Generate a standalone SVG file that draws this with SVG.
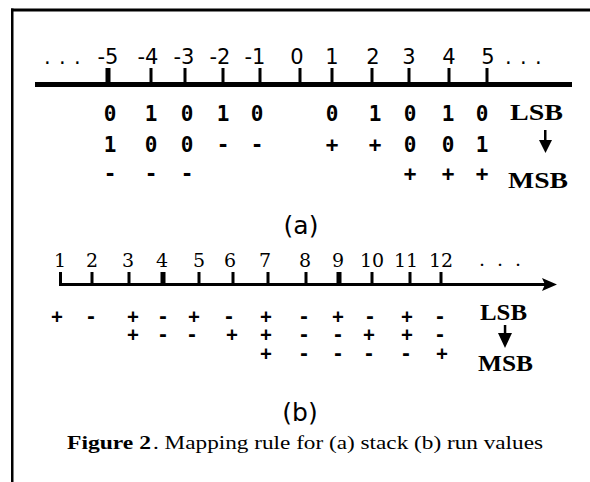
<svg xmlns="http://www.w3.org/2000/svg" width="590" height="482" viewBox="0 0 590 482">
  <style>
    .axislabel { font-family: "DejaVu Sans", "Liberation Sans", sans-serif; font-size: 21px; fill: #000; text-anchor: middle; }
    .runlabel { font-family: "DejaVu Serif", "Liberation Serif", serif; font-size: 19px; fill: #000; text-anchor: middle; }
    .bit { font-family: "DejaVu Sans Mono", "Liberation Mono", monospace; font-weight: bold; font-size: 21px; fill: #000; text-anchor: middle; }
    .bitb { font-family: "DejaVu Sans Mono", "Liberation Mono", monospace; font-weight: bold; font-size: 19px; fill: #000; text-anchor: middle; }
    .sb { font-family: "Liberation Serif", serif; font-weight: bold; font-size: 24px; fill: #000; }
    .part { font-family: "DejaVu Sans", "Liberation Sans", sans-serif; font-size: 25px; fill: #000; text-anchor: middle; }
    .caption { font-family: "Liberation Serif", serif; font-size: 19px; fill: #000; }
    .tick { fill: #000; }
  </style>

  <!-- frame -->
  <g id="frame" fill="#000">
    <rect x="11" y="8.5" width="579" height="3"/>
    <rect x="11" y="8.5" width="2.5" height="474"/>
  </g>

  <!-- (a) stack values -->
  <g id="axis-a">
    <rect x="35" y="82" width="537" height="5" fill="#000"/>
    <rect class="tick" x="105.5" y="68" width="5" height="16"/>
    <rect class="tick" x="149.5" y="68" width="3" height="16"/>
    <rect class="tick" x="183.5" y="68" width="3" height="16"/>
    <rect class="tick" x="221.5" y="68" width="3" height="16"/>
    <rect class="tick" x="258.5" y="68" width="3" height="16"/>
    <rect class="tick" x="298.5" y="68" width="3" height="16"/>
    <rect class="tick" x="330.5" y="68" width="3" height="16"/>
    <rect class="tick" x="370.5" y="68" width="3" height="16"/>
    <rect class="tick" x="407.5" y="68" width="3" height="16"/>
    <rect class="tick" x="447.5" y="68" width="3" height="16"/>
    <rect class="tick" x="485.5" y="68" width="3" height="16"/>
  </g>
  <g id="labels-a">
    <text class="axislabel" x="44 59 74" y="64" style="text-anchor:start">...</text>
    <text class="axislabel" x="108" y="64">-5</text>
    <text class="axislabel" x="148" y="64">-4</text>
    <text class="axislabel" x="184" y="64">-3</text>
    <text class="axislabel" x="220" y="64">-2</text>
    <text class="axislabel" x="255" y="64">-1</text>
    <text class="axislabel" x="297" y="64">0</text>
    <text class="axislabel" x="332" y="64">1</text>
    <text class="axislabel" x="373" y="64">2</text>
    <text class="axislabel" x="409" y="64">3</text>
    <text class="axislabel" x="449" y="64">4</text>
    <text class="axislabel" x="488" y="64">5</text>
    <text class="axislabel" x="505 520 535" y="64" style="text-anchor:start">...</text>
  </g>
  <g id="bits-a">
    <text class="bit" y="120.5"><tspan x="110">0</tspan><tspan x="151">1</tspan><tspan x="187">0</tspan><tspan x="223">1</tspan><tspan x="257">0</tspan><tspan x="332">0</tspan><tspan x="375">1</tspan><tspan x="410">0</tspan><tspan x="448">1</tspan><tspan x="482">0</tspan></text>
    <text class="bit" y="151.5"><tspan x="110">1</tspan><tspan x="151">0</tspan><tspan x="187">0</tspan><tspan x="223">-</tspan><tspan x="257">-</tspan><tspan x="332">+</tspan><tspan x="375">+</tspan><tspan x="410">0</tspan><tspan x="448">0</tspan><tspan x="482">1</tspan></text>
    <text class="bit" y="181"><tspan x="110">-</tspan><tspan x="151">-</tspan><tspan x="187">-</tspan><tspan x="410">+</tspan><tspan x="448">+</tspan><tspan x="482">+</tspan></text>
  </g>
  <g id="order-a">
    <text class="sb" x="510" y="120" textLength="53" lengthAdjust="spacingAndGlyphs">LSB</text>
    <rect x="544" y="130" width="2.5" height="11" fill="#000"/>
    <polygon points="539,140 552,140 545.5,153" fill="#000"/>
    <text class="sb" x="508" y="188" textLength="60" lengthAdjust="spacingAndGlyphs">MSB</text>
  </g>
  <text id="part-a" class="part" x="301" y="234">(a)</text>

  <!-- (b) run values -->
  <g id="axis-b">
    <rect x="59" y="283" width="486" height="3" fill="#000"/>
    <polygon points="542,278 557,284.5 542,291 545,284.5" fill="#000"/>
    <rect class="tick" x="59" y="272" width="3" height="12"/>
    <rect class="tick" x="90.5" y="272" width="3" height="12"/>
    <rect class="tick" x="127.5" y="272" width="3" height="12"/>
    <rect class="tick" x="160.5" y="272" width="5" height="12"/>
    <rect class="tick" x="197.5" y="272" width="3" height="12"/>
    <rect class="tick" x="231.5" y="272" width="3" height="12"/>
    <rect class="tick" x="266.5" y="272" width="3" height="12"/>
    <rect class="tick" x="304.5" y="272" width="3" height="12"/>
    <rect class="tick" x="336.5" y="272" width="5" height="12"/>
    <rect class="tick" x="370.5" y="272" width="3" height="12"/>
    <rect class="tick" x="408.5" y="272" width="3" height="12"/>
    <rect class="tick" x="439.5" y="272" width="3" height="12"/>
  </g>
  <g id="labels-b">
    <text class="runlabel" x="60" y="267">1</text>
    <text class="runlabel" x="92" y="267">2</text>
    <text class="runlabel" x="128" y="267">3</text>
    <text class="runlabel" x="162" y="267">4</text>
    <text class="runlabel" x="199" y="267">5</text>
    <text class="runlabel" x="230" y="267">6</text>
    <text class="runlabel" x="265" y="267">7</text>
    <text class="runlabel" x="305" y="267">8</text>
    <text class="runlabel" x="338" y="267">9</text>
    <text class="runlabel" x="372" y="267">10</text>
    <text class="runlabel" x="406" y="267">11</text>
    <text class="runlabel" x="441" y="267">12</text>
    <text class="runlabel" x="482 500 518" y="266">...</text>
  </g>
  <g id="bits-b">
    <text class="bitb" y="322.5"><tspan x="57">+</tspan><tspan x="91">-</tspan><tspan x="133">+</tspan><tspan x="163">-</tspan><tspan x="194">+</tspan><tspan x="229">-</tspan><tspan x="266">+</tspan><tspan x="304">-</tspan><tspan x="338">+</tspan><tspan x="370">-</tspan><tspan x="407">+</tspan><tspan x="440">-</tspan></text>
    <text class="bitb" y="340.5"><tspan x="133">+</tspan><tspan x="163">-</tspan><tspan x="192">-</tspan><tspan x="232">+</tspan><tspan x="266">+</tspan><tspan x="304">-</tspan><tspan x="338">-</tspan><tspan x="369">+</tspan><tspan x="407">+</tspan><tspan x="440">-</tspan></text>
    <text class="bitb" y="359.5"><tspan x="266">+</tspan><tspan x="304">-</tspan><tspan x="338">-</tspan><tspan x="369">-</tspan><tspan x="406">-</tspan><tspan x="442">+</tspan></text>
  </g>
  <g id="order-b">
    <text class="sb" x="480" y="320" textLength="47" lengthAdjust="spacingAndGlyphs">LSB</text>
    <rect x="503.8" y="325" width="2.5" height="9" fill="#000"/>
    <polygon points="498,333 512,333 505,348" fill="#000"/>
    <text class="sb" x="478" y="371" textLength="55" lengthAdjust="spacingAndGlyphs">MSB</text>
  </g>
  <text id="part-b" class="part" x="300" y="421">(b)</text>

  <!-- caption -->
  <g id="caption">
    <text class="caption" x="67" y="449" font-weight="bold" textLength="84" lengthAdjust="spacingAndGlyphs">Figure 2</text>
    <text class="caption" x="153" y="449" textLength="390" lengthAdjust="spacingAndGlyphs">. Mapping rule for (a) stack (b) run values</text>
  </g>
</svg>
